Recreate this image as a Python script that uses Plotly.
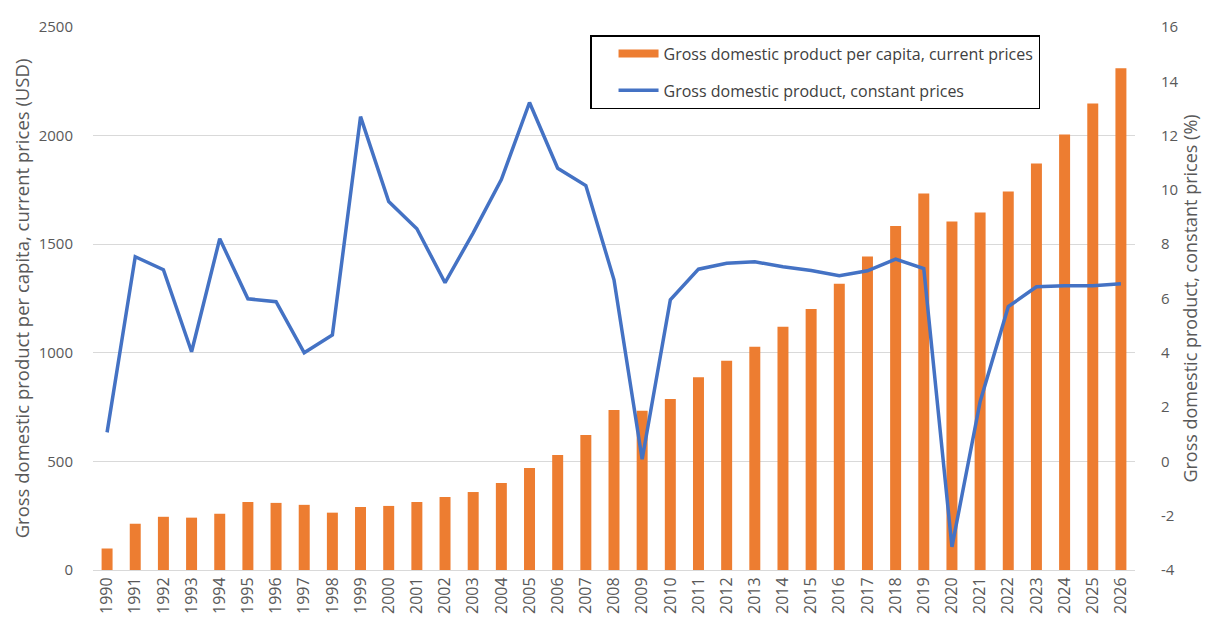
import plotly.graph_objects as go

years = [str(y) for y in range(1990, 2027)]
gdp_per_capita = [99, 213, 245, 241, 259, 313, 309, 300, 264, 290, 295, 313, 336, 359,
                  401, 470, 530, 622, 737, 733, 787, 888, 963, 1028, 1120, 1202, 1318,
                  1443, 1584, 1734, 1605, 1646, 1743, 1872, 2005, 2148, 2310]
gdp_growth = [1.07, 7.54, 7.06, 4.04, 8.2, 5.99, 5.88, 4.0, 4.66, 12.7, 9.57, 8.57, 6.58,
              8.42, 10.38, 13.22, 10.8, 10.16, 6.69, 0.08, 5.95, 7.08, 7.3, 7.35, 7.17,
              7.03, 6.84, 7.02, 7.45, 7.1, -3.15, 2.2, 5.7, 6.43, 6.47, 6.47, 6.54]

left_ticks = [0, 500, 1000, 1500, 2000, 2500]
right_ticks = [-4, -2, 0, 2, 4, 6, 8, 10, 12, 14, 16]

bar_name = "Gross domestic product per capita, current prices"
line_name = "Gross domestic product, constant prices"

FONT = "Open Sans, sans-serif"
GRAY = "#595959"
ORANGE = "#ED7D31"
BLUE = "#4472C4"

fig = go.Figure()
fig.add_trace(go.Bar(
    x=years, y=gdp_per_capita,
    name=bar_name,
    marker=dict(color=ORANGE, line=dict(width=0)),
    legendgroup="a", showlegend=False, yaxis="y",
))
# legend-only entry so the bar key is drawn as a wide orange bar, like the original
fig.add_trace(go.Scatter(
    x=[None], y=[None], mode="lines", name=bar_name,
    line=dict(color=ORANGE, width=8),
    legendgroup="a", showlegend=True, yaxis="y", hoverinfo="skip",
))
fig.add_trace(go.Scatter(
    x=years, y=gdp_growth, mode="lines",
    name=line_name,
    line=dict(color=BLUE, width=3.5),
    legendgroup="b", yaxis="y2",
))

fig.update_layout(
    width=1219, height=627,
    margin=dict(l=93, r=84, t=27, b=57),
    paper_bgcolor="white", plot_bgcolor="white",
    font=dict(family=FONT, color=GRAY, size=14),
    bargap=0.61,
    showlegend=True,
    legend=dict(
        x=0.477, y=0.985, xanchor="left", yanchor="top",
        bordercolor="#000000", borderwidth=1.5,
        bgcolor="white",
        font=dict(family=FONT, size=16, color="#404040"),
        traceorder="grouped", tracegroupgap=13,
        itemwidth=40, indentation=22,
    ),
    xaxis=dict(
        type="category",
        tickangle=-90,
        tickfont=dict(size=16, color=GRAY),
        showgrid=False,
        showline=True, linecolor="#d9d9d9", linewidth=1,
        ticks="",
    ),
    yaxis=dict(
        range=[0, 2500],
        tickvals=left_ticks,
        ticktext=[str(v) for v in left_ticks],
        showgrid=True, gridcolor="#d9d9d9", gridwidth=1,
        zeroline=False,
        ticks="outside", ticklen=16, tickcolor="rgba(0,0,0,0)",
        tickfont=dict(size=15, color=GRAY),
        title=dict(text="Gross domestic product per capita, current prices (USD)",
                   font=dict(size=18.5, color=GRAY), standoff=4),
    ),
    yaxis2=dict(
        range=[-4, 16],
        tickvals=right_ticks,
        ticktext=[str(v) for v in right_ticks],
        overlaying="y", side="right",
        showgrid=False, zeroline=False,
        ticks="outside", ticklen=22, tickcolor="rgba(0,0,0,0)",
        tickfont=dict(size=15, color=GRAY),
        title=dict(text="Gross domestic product, constant prices (%)",
                   font=dict(size=18, color=GRAY), standoff=6),
    ),
)

fig.write_html("out.html")
